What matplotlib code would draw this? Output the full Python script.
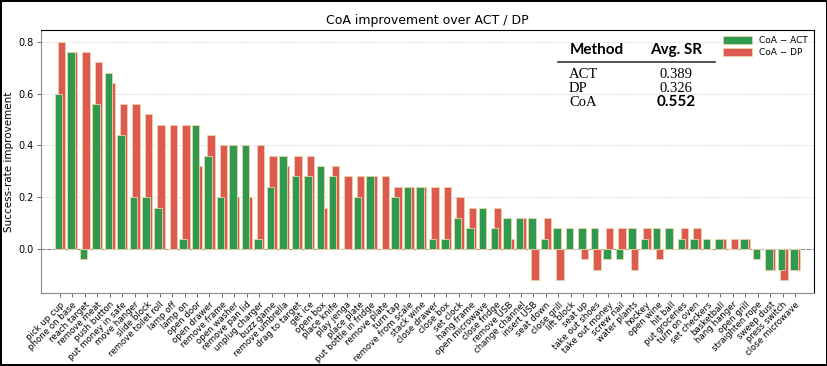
import matplotlib
matplotlib.use('Agg')
import matplotlib.pyplot as plt
import numpy as np

# task names, sorted by the larger of the two gains
tasks = ['pick up cup', 'phone on base', 'reach target', 'remove meat', 'push button',
         'put money in safe', 'move hanger', 'slide block', 'remove toilet roll', 'lamp off',
         'lamp on', 'open door', 'open drawer', 'remove frame', 'open washer',
         'remove pan lid', 'unplug charger', 'buzz game', 'remove umbrella', 'drag to target',
         'get ice', 'open box', 'place knife', 'play jenga', 'place plate',
         'put bottle in fridge', 'remove plate', 'turn tap', 'remove from scale', 'stack wine',
         'close drawer', 'close box', 'set clock', 'hang frame', 'open microwave',
         'close fridge', 'remove USB', 'change channel', 'insert USB', 'seat down',
         'close grill', 'lift block', 'seat up', 'take out shoes', 'take out money',
         'screw nail', 'water plants', 'hockey', 'open wine', 'hit ball',
         'put groceries', 'turn on oven', 'set checkers', 'basketball', 'hang hanger',
         'open grill', 'straighten rope', 'sweep dust', 'press switch', 'close microwave']

# CoA - ACT
gain_act = [0.60, 0.76, -0.04, 0.56, 0.68,
            0.44, 0.20, 0.20, 0.16, 0.00,
            0.04, 0.48, 0.36, 0.20, 0.40,
            0.40, 0.04, 0.24, 0.36, 0.28,
            0.28, 0.32, 0.28, 0.00, 0.20,
            0.28, 0.00, 0.20, 0.24, 0.24,
            0.04, 0.04, 0.12, 0.08, 0.16,
            0.08, 0.12, 0.12, 0.12, 0.04,
            0.08, 0.08, 0.08, 0.08, -0.04,
            -0.04, 0.08, 0.04, 0.08, 0.08,
            0.04, 0.04, 0.04, 0.04, 0.00,
            0.04, -0.04, -0.08, -0.08, -0.08]

# CoA - DP
gain_dp = [0.80, 0.76, 0.76, 0.72, 0.64,
           0.56, 0.56, 0.52, 0.48, 0.48,
           0.48, 0.32, 0.44, 0.40, 0.20,
           0.20, 0.40, 0.36, 0.32, 0.36,
           0.36, 0.16, 0.32, 0.28, 0.28,
           0.28, 0.28, 0.24, 0.24, 0.24,
           0.24, 0.24, 0.20, 0.16, 0.00,
           0.16, 0.04, 0.12, -0.12, 0.12,
           -0.12, 0.00, -0.04, -0.08, 0.08,
           0.08, -0.08, 0.08, -0.04, 0.00,
           0.08, 0.08, 0.00, 0.04, 0.04,
           0.04, 0.00, -0.08, -0.12, -0.08]

methods = ['ACT', 'DP', 'CoA']
avg_sr = ['0.389', '0.326', '0.552']

GREEN = '#2f9a4f'
RED = '#dc5a50'

fig = plt.figure(figsize=(8.28, 3.66), dpi=100)
ax = fig.add_axes([0.049, 0.199, 0.934, 0.719])

x = np.arange(len(tasks))
w = 0.6
ax.bar(x + 0.11, gain_dp, width=w, color=RED, edgecolor='#ecd3a6', linewidth=0.6,
       label='CoA − DP', zorder=2)
ax.bar(x - 0.11, gain_act, width=w, color=GREEN, edgecolor='#ecd3a6', linewidth=0.6,
       label='CoA − ACT', zorder=3)

ax.axhline(0, color='#888888', ls='--', lw=0.8, zorder=1)
ax.set_xlim(-1.55, 60.5)
ax.set_ylim(-0.17, 0.845)
ax.set_yticks([0.0, 0.2, 0.4, 0.6, 0.8])
ax.set_yticklabels(['0.0', '0.2', '0.4', '0.6', '0.8'], fontsize=7)
ax.yaxis.grid(True, ls='--', color='#dddddd', lw=0.6, zorder=0)
ax.set_axisbelow(True)
ax.set_xticks(x)
ax.set_xticklabels(tasks, rotation=45, ha='right', rotation_mode='anchor', fontsize=6.2)
ax.tick_params(axis='both', length=3, width=0.6, color='#555555', pad=2)
ax.set_ylabel('Success-rate improvement', fontsize=7.5, labelpad=3)
ax.set_title('CoA improvement over ACT / DP', fontsize=9, pad=4)
for s in ['left', 'bottom']:
    ax.spines[s].set_color('#888888')

h, l = ax.get_legend_handles_labels()
ax.legend([h[1], h[0]], [l[1], l[0]], loc='upper right', fontsize=6.5, frameon=False,
          handlelength=3.2, handleheight=0.9, borderaxespad=0.3, labelspacing=0.3)

# small results table in the upper right
def fx(px):
    return px / 828

def fy(py):
    return 1 - py / 366

fig.text(fx(597), fy(50), 'Method', ha='center', va='center', fontsize=11,
         fontweight='bold', family='Lato')
fig.text(fx(676), fy(50), 'Avg. SR', ha='center', va='center', fontsize=11,
         fontweight='bold', family='Lato')
fig.add_artist(plt.Line2D([fx(558), fx(715)], [fy(62), fy(62)], color='#333333', lw=1.2))
row_y = [74, 88, 102]
for m, v, py in zip(methods, avg_sr, row_y):
    fig.text(fx(569), fy(py), m, ha='left', va='center', fontsize=10.5, family='Liberation Serif')
    if m == 'CoA':
        fig.text(fx(676), fy(py), v, ha='center', va='center', fontsize=11,
                 fontweight='bold', family='Lato')
    else:
        fig.text(fx(676), fy(py), v, ha='center', va='center', fontsize=10.5,
                 family='Liberation Serif')

fig.patch.set_edgecolor('black')
fig.patch.set_linewidth(1.5)

fig.savefig('out.png', dpi=100, edgecolor=fig.get_edgecolor())
